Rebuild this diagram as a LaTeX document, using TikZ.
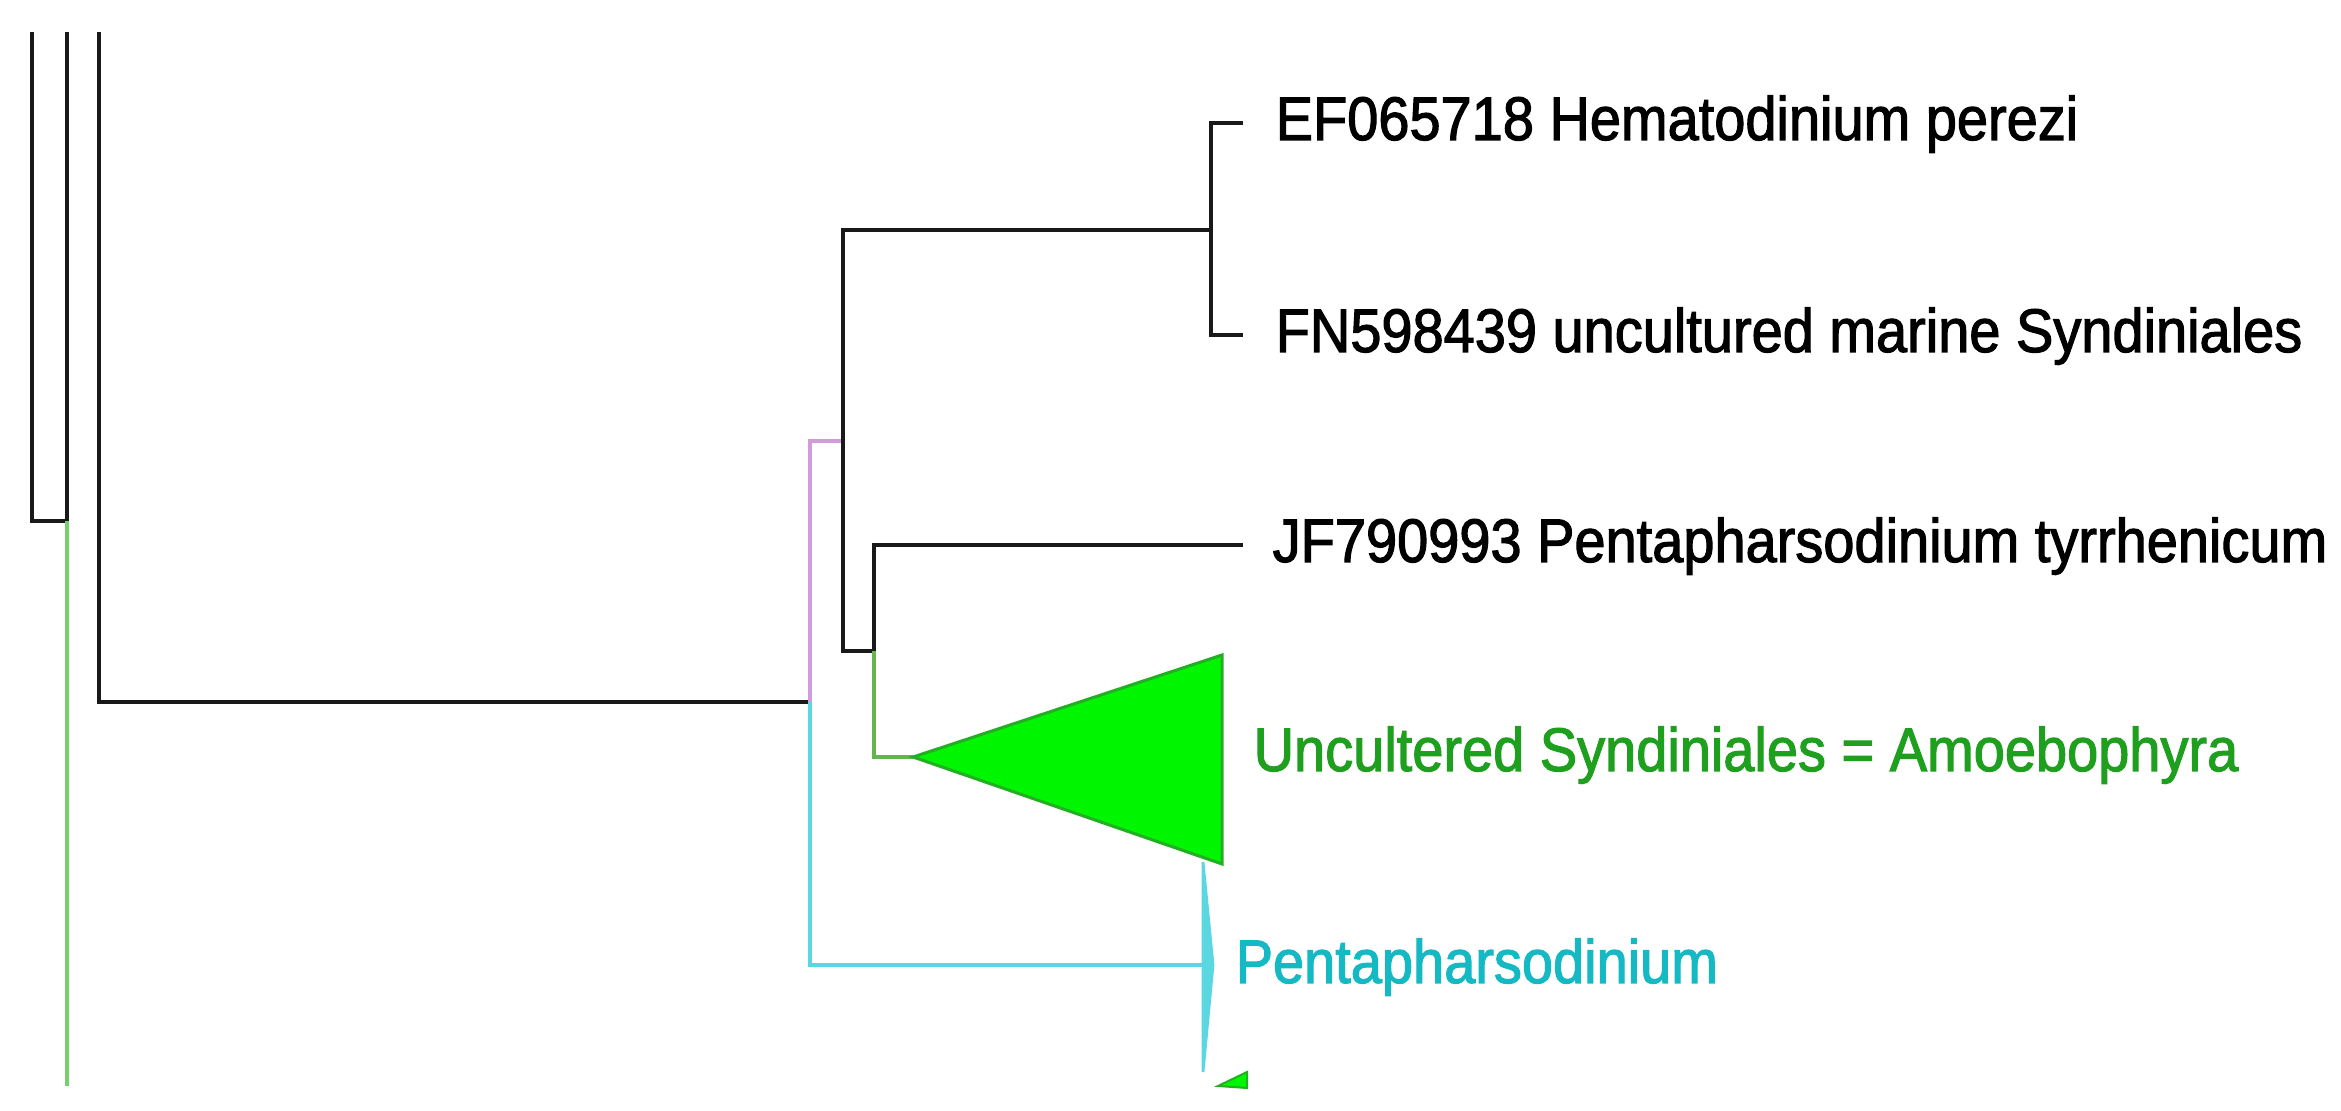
\documentclass[tikz,border=0pt]{standalone}
\usepackage{fontspec}
\setmainfont{Liberation Sans}[FakeStretch=0.91,FakeBold=1.8]
\usepackage{tikz}

\definecolor{basegreen}{RGB}{120,205,110}
\definecolor{stemgreen}{RGB}{100,180,80}
\definecolor{amoebagreen}{RGB}{0,245,0}
\definecolor{amoebaline}{RGB}{35,175,35}
\definecolor{amoebatext}{RGB}{30,160,30}
\definecolor{syndpink}{RGB}{210,155,220}
\definecolor{pentacyan}{RGB}{90,215,225}
\definecolor{pentatext}{RGB}{20,185,195}

\begin{document}
\begin{tikzpicture}[x=0.1mm,y=-0.1mm,
  branch/.style={line width=0.45mm,draw=black!90},
  thin branch/.style={line width=0.32mm},
  taxon/.style={anchor=base west,inner sep=0pt,font=\fontsize{17.5}{21}\selectfont}]
\useasboundingbox (0,0) rectangle (2341,1111);

% junctions
\coordinate (r1) at (32,32);
\coordinate (r2) at (67,32);
\coordinate (r3) at (99,32);
\coordinate (n1) at (67,521);
\coordinate (g1) at (67,1086);
\coordinate (n2) at (810,702);
\coordinate (n3) at (843,441);
\coordinate (n4) at (1211,230);
\coordinate (n5) at (874,651);
\coordinate (l1) at (1243,123);
\coordinate (l2) at (1243,335);
\coordinate (l3) at (1243,545);
\coordinate (apex) at (913,757);
\coordinate (penta) at (1203,965);

% labels
\node[taxon] (ef) at (1275,140) {EF065718 Hematodinium perezi};
\node[taxon] (fn) at (1275,352) {FN598439 uncultured marine Syndiniales};
\node[taxon] (jf) at (1272,562) {JF790993 Pentapharsodinium tyrrhenicum};
\node[taxon,text=amoebatext] (amoeba) at (1253,771) {Uncultered Syndiniales = Amoebophyra};
\node[taxon,text=pentatext] (pentalab) at (1235,983) {Pentapharsodinium};

% tree
\draw[branch] (r1) |- (n1) -- (r2);
\draw[branch,draw=basegreen] (n1) -- (g1);
\draw[branch] (r3) |- (n2);
\draw[thin branch,syndpink] (n2) |- (n3);
\draw[thin branch,pentacyan] (n2) |- (penta);
\draw[branch] (n4) -| (n3) |- (n5);
\draw[branch] (l1) -| (n4) |- (l2);
\draw[branch] (l3) -| (n5);
\draw[branch,draw=stemgreen,line width=0.38mm] (n5) |- (apex);

% collapsed clades
\filldraw[fill=amoebagreen,draw=amoebaline,line width=0.3mm] (apex) -- (1222,655) -- (1222,864) -- cycle;
\filldraw[fill=pentacyan,draw=pentacyan,line width=0.28mm] (1203,862) -- (penta -| 1213,0) -- (1203,1072) -- cycle;
\filldraw[fill=amoebagreen,draw=amoebaline,line width=0.2mm] (1218,1086) -- (1247,1072) -- (1247,1088) -- cycle;
\end{tikzpicture}
\end{document}
